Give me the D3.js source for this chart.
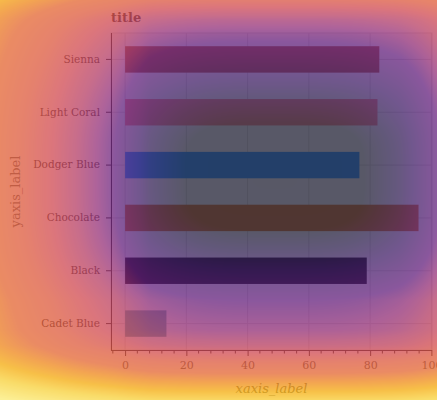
<!DOCTYPE html>
<html><head><meta charset="utf-8">
<script src="https://cdn.jsdelivr.net/npm/d3@7"></script>
<style>html,body{margin:0;padding:0;background:#fff;} svg{display:block}</style>
</head><body><svg id="c" width="437" height="400"></svg>
<script>
const categories = ["Sienna", "Light Coral", "Dodger Blue", "Chocolate", "Black", "Cadet Blue"];
const values = [83.0, 82.4, 76.5, 95.8, 78.9, 13.5];
const barColors = ["sienna", "lightcoral", "dodgerblue", "chocolate", "black", "cadetblue"];
const xTicks = [0, 20, 40, 60, 80, 100];
const titleText = "title";
const xLabel = "xaxis_label";
const yLabel = "yaxis_label";

const W = 437, H = 400;
const M = {left: 111, right: 5, top: 33, bottom: 50};
const svg = d3.select("#c");
const font = "'DejaVu Serif', serif";

const x = d3.scaleLinear().domain([-4.6, 100.2]).range([M.left, W - M.right]);
const y = d3.scaleBand().domain(categories).range([M.top, H - M.bottom]).paddingInner(0.5).paddingOuter(0.25);

const chart = svg.append("g");
chart.append("rect").attr("x", 0).attr("y", 0).attr("width", W).attr("height", H).attr("fill", "#fff");
chart.append("rect").attr("x", M.left).attr("y", M.top).attr("width", W - M.right - M.left).attr("height", H - M.bottom - M.top)
  .attr("fill", "#f4f4f4").attr("stroke", "#d8d8d8");

// grid
chart.append("g").selectAll("line").data(xTicks).join("line")
  .attr("x1", d => x(d)).attr("x2", d => x(d)).attr("y1", M.top).attr("y2", H - M.bottom)
  .attr("stroke", "#d4d4d4").attr("stroke-width", 1);
chart.append("g").selectAll("line").data(categories).join("line")
  .attr("y1", d => y(d) + y.bandwidth() / 2).attr("y2", d => y(d) + y.bandwidth() / 2)
  .attr("x1", M.left).attr("x2", W - M.right)
  .attr("stroke", "#d4d4d4").attr("stroke-width", 1);

// bars
chart.append("g").selectAll("rect").data(categories).join("rect")
  .attr("x", x(0)).attr("y", d => y(d))
  .attr("width", (d, i) => x(values[i]) - x(0)).attr("height", y.bandwidth())
  .attr("fill", (d, i) => barColors[i]);

// axes
const xAxis = d3.axisBottom(x).tickValues(xTicks).tickSize(6).tickPadding(5).tickSizeOuter(0);
const gx = chart.append("g").attr("transform", `translate(0,${H - M.bottom})`).call(xAxis);
const minor = d3.range(-4, 101, 4).filter(v => !xTicks.includes(v));
gx.selectAll("line.minor").data(minor).join("line").attr("class", "minor")
  .attr("x1", d => x(d)).attr("x2", d => x(d)).attr("y1", 0).attr("y2", 3.5).attr("stroke", "#222");
gx.select(".domain").attr("stroke", "#222").attr("d", `M${M.left},0.5H${W - M.right}`);
gx.selectAll(".tick line").attr("stroke", "#222");
gx.selectAll("text").attr("font-family", font).attr("font-size", 11).attr("fill", "#555");

const yAxis = d3.axisLeft(y).tickSize(5).tickPadding(6).tickSizeOuter(0);
const gy = chart.append("g").attr("transform", `translate(${M.left},0)`).call(yAxis);
gy.select(".domain").attr("stroke", "#222").attr("d", `M0.5,${M.top}V${H - M.bottom}`);
gy.selectAll(".tick line").attr("stroke", "#222");
gy.selectAll("text").attr("font-family", font).attr("font-size", 10.5).attr("fill", "#333");

chart.append("text").attr("x", M.left).attr("y", 22).text(titleText)
  .attr("font-family", font).attr("font-weight", "bold").attr("font-size", 13).attr("fill", "#333");
chart.append("text").attr("x", (M.left + W - M.right) / 2).attr("y", 393).attr("text-anchor", "middle").text(xLabel)
  .attr("font-family", font).attr("font-style", "italic").attr("font-size", 13).attr("fill", "#666");
chart.append("text").attr("transform", `translate(20,${(M.top + H - M.bottom) / 2}) rotate(-90)`).attr("text-anchor", "middle").text(yLabel)
  .attr("font-family", font).attr("font-size", 13).attr("fill", "#666");

// translucent colour wash (dark centre -> purple -> salmon -> orange -> yellow towards the edges)
const wash = [
  [0, [37, 37, 55]], [0.5, [37, 37, 57]], [0.65, [50, 36, 82]], [0.8, [70, 35, 108]], [1.0, [103, 35, 128]],
  [1.1, [148, 48, 121]], [1.2, [181, 61, 101]], [1.32, [208, 72, 81]], [1.45, [221, 88, 61]], [1.6, [228, 101, 48]],
  [1.72, [239, 135, 24]], [1.84, [245, 171, 11]], [1.97, [248, 208, 55]], [2.15, [251, 235, 115]], [2.4, [252, 248, 141]]
];
const cx = 275, cy = 175, pw = 3.5, alpha = 0.75;
const mapTop = d3.scaleLinear().domain([0, 53, 90, 142, 155, 163, 175]).range([0, 0.5, 0.75, 1.05, 1.15, 1.25, 1.42]);
const mapBot = d3.scaleLinear().domain([0, 55, 95, 125, 155, 170, 185, 200, 215, 225]).range([0, 0.5, 0.8, 1.0, 1.1, 1.22, 1.42, 1.62, 1.82, 1.95]);
const mapLeft = d3.scaleLinear().domain([0, 125, 135, 160, 175, 225, 275]).range([0, 0.7, 0.8, 1.0, 1.08, 1.33, 1.55]);
const mapRight = d3.scaleLinear().domain([0, 125, 162]).range([0, 0.7, 0.98]);
const cv = document.createElement("canvas");
cv.width = W; cv.height = H;
const ctx = cv.getContext("2d");
const img = ctx.createImageData(W, H);
function col(t) {
  if (t <= wash[0][0]) return wash[0][1];
  for (let k = 1; k < wash.length; k++) {
    if (t <= wash[k][0]) {
      const a = wash[k - 1], b = wash[k], f = (t - a[0]) / (b[0] - a[0]);
      return a[1].map((v, j) => v + (b[1][j] - v) * f);
    }
  }
  return wash[wash.length - 1][1];
}
for (let j = 0; j < H; j++) {
  const py = j + 0.5;
  const ty = py < cy ? mapTop(cy - py) : mapBot(py - cy);
  for (let i = 0; i < W; i++) {
    const px = i + 0.5;
    const tx = px < cx ? mapLeft(cx - px) : mapRight(px - cx);
    const t = Math.pow(Math.pow(tx, pw) + Math.pow(ty, pw), 1 / pw);
    const c = col(t);
    const o = (j * W + i) * 4;
    img.data[o] = c[0]; img.data[o + 1] = c[1]; img.data[o + 2] = c[2]; img.data[o + 3] = 255;
  }
}
ctx.putImageData(img, 0, 0);
svg.append("image").attr("x", 0).attr("y", 0).attr("width", W).attr("height", H)
  .attr("href", cv.toDataURL()).attr("opacity", alpha);
</script></body></html>
